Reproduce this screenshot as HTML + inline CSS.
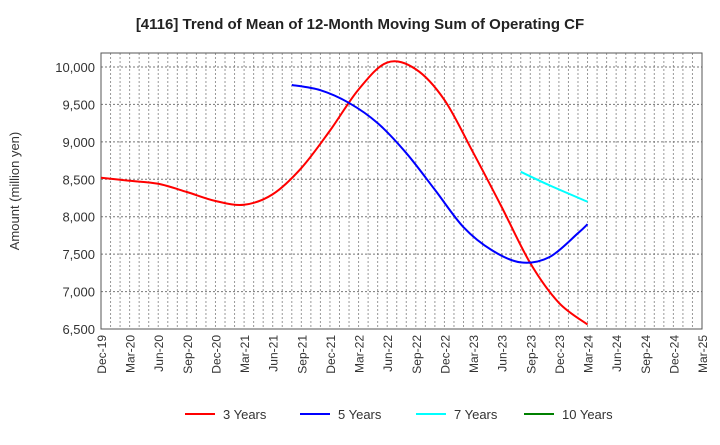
<!DOCTYPE html>
<html><head><meta charset="utf-8"><style>
body{margin:0;background:#fff;font-family:"Liberation Sans",Arial,sans-serif;}
svg text{font-family:"Liberation Sans",Arial,sans-serif;}
</style></head><body>
<svg id="c" width="720" height="440" xmlns="http://www.w3.org/2000/svg">
<text x="360" y="29" text-anchor="middle" font-size="15" font-weight="bold" fill="#222">[4116]  Trend of Mean of 12-Month Moving Sum of Operating CF</text>
<text transform="translate(19,191) rotate(-90)" text-anchor="middle" font-size="13" fill="#333">Amount (million yen)</text>
<g id="grid"></g><g id="axes"></g><g id="series"></g>
<g>
<g><line x1="185" y1="414" x2="215" y2="414" stroke="#ff0000" stroke-width="2"/><text x="223" y="419" font-size="13" fill="#333">3 Years</text></g>
<g><line x1="300" y1="414" x2="330" y2="414" stroke="#0000ff" stroke-width="2"/><text x="338" y="419" font-size="13" fill="#333">5 Years</text></g>
<g><line x1="416" y1="414" x2="446" y2="414" stroke="#00ffff" stroke-width="2"/><text x="454" y="419" font-size="13" fill="#333">7 Years</text></g>
<g><line x1="524" y1="414" x2="554" y2="414" stroke="#008000" stroke-width="2"/><text x="562" y="419" font-size="13" fill="#333">10 Years</text></g>
</g>
</svg>
<script>
const xLabels=["Dec-19","Mar-20","Jun-20","Sep-20","Dec-20","Mar-21","Jun-21","Sep-21","Dec-21","Mar-22","Jun-22","Sep-22","Dec-22","Mar-23","Jun-23","Sep-23","Dec-23","Mar-24","Jun-24","Sep-24","Dec-24","Mar-25"];
const yTicks=[6500,7000,7500,8000,8500,9000,9500,10000];
const red3Months=[0,3,6,9,12,15,18,21,24,27,30,33,36,39,42,45,48,51];
const red3Values=[8520,8480,8440,8330,8210,8160,8300,8650,9150,9700,10060,9970,9560,8860,8130,7380,6850,6560];
const blue5Months=[20,23,26,29,32,35,38,41,44,47,50,51];
const blue5Values=[9760,9690,9520,9250,8850,8360,7860,7550,7390,7460,7780,7900];
const cyan7Months=[44,47,51];
const cyan7Values=[8600,8420,8200];
const green10Months=[];
const green10Values=[];

const L=101,R=702,T=53,B=329,yMin=6500,yMax=10000,yTopPx=67,nMonths=63;
const xs=m=>L+(R-L)*m/nMonths;
const ys=v=>B-(v-yMin)/(yMax-yMin)*(B-yTopPx);
const NS="http://www.w3.org/2000/svg";
function mk(tag,attrs,parent){const e=document.createElementNS(NS,tag);for(const k in attrs)e.setAttribute(k,attrs[k]);parent.appendChild(e);return e;}
const grid=document.getElementById('grid'),axes=document.getElementById('axes'),ser=document.getElementById('series');
for(let m=1;m<nMonths;m++){
  const g=mk('line',{x1:xs(m),x2:xs(m),y1:T,y2:B,stroke:'#999','stroke-width':1,'stroke-dasharray':'2,2'},grid);
  
  
}
yTicks.forEach(v=>{
  const g=mk('line',{x1:L,x2:R,y1:ys(v),y2:ys(v),stroke:'#777','stroke-width':1,'stroke-dasharray':'2,2'},grid);
  
  
  const t=mk('text',{x:L-6,y:ys(v)+5,'text-anchor':'end','font-size':13,fill:'#333'},axes);
  t.textContent=v.toLocaleString('en-US');
  
  
});
xLabels.forEach((s,i)=>{
  const x=xs(i*3);
  const t=mk('text',{transform:`translate(${x+5},335) rotate(-90)`,'text-anchor':'end','font-size':12,fill:'#333'},axes);
  t.textContent=s;
  
  
});
const frame=mk('rect',{x:L,y:T,width:R-L,height:B-T,fill:'none',stroke:'#555','stroke-width':1},axes);


function smooth(pts){
  if(pts.length<2)return '';
  let d=`M${pts[0][0]},${pts[0][1]}`;
  for(let i=0;i<pts.length-1;i++){
    const p0=pts[i-1]||pts[i],p1=pts[i],p2=pts[i+1],p3=pts[i+2]||p2;
    const c1=[p1[0]+(p2[0]-p0[0])/6,p1[1]+(p2[1]-p0[1])/6];
    const c2=[p2[0]-(p3[0]-p1[0])/6,p2[1]-(p3[1]-p1[1])/6];
    d+=` C${c1[0]},${c1[1]} ${c2[0]},${c2[1]} ${p2[0]},${p2[1]}`;
  }
  return d;
}
function line(months,vals,color,name){
  if(!months.length)return;
  const p=mk('path',{d:smooth(months.map((m,i)=>[xs(m),ys(vals[i])])),fill:'none',stroke:color,'stroke-width':2},ser);
  
  
}
line(red3Months,red3Values,'#ff0000','series-3-years');
line(blue5Months,blue5Values,'#0000ff','series-5-years');
line(cyan7Months,cyan7Values,'#00ffff','series-7-years');
line(green10Months,green10Values,'#008000','series-10-years');
</script>
</body></html>
